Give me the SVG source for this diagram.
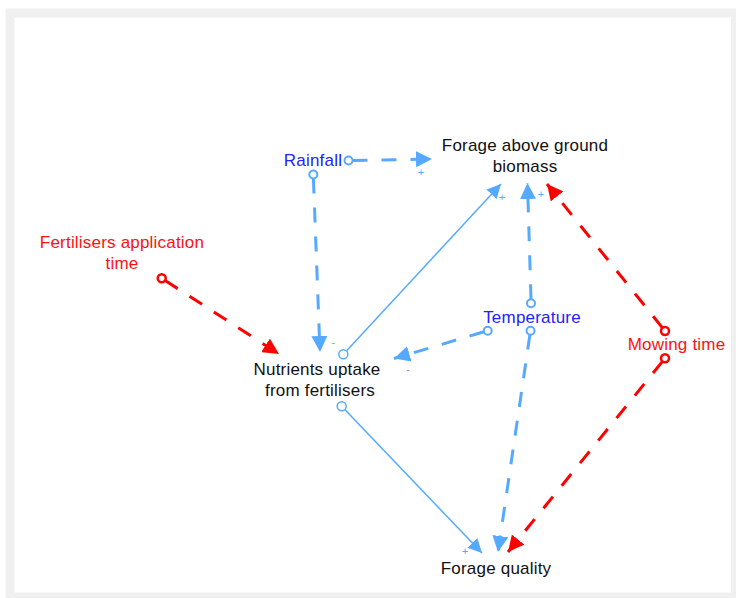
<svg xmlns="http://www.w3.org/2000/svg" width="736" height="598" viewBox="0 0 736 598">
  <style>
    .lbl { font-family: "Liberation Sans", Arial, sans-serif; font-size: 17px; letter-spacing: 0.2px; text-anchor: middle; }
    .black { fill: #111111; }
    .blue { fill: #2222ff; }
    .red { fill: #ff1111; }
    .sign { font-family: "Liberation Sans", Arial, sans-serif; font-size: 11px; text-anchor: middle; fill: #55aaff; }
    .dash-b { fill: none; stroke: #55aaff; stroke-width: 3; stroke-dasharray: 15 14; marker-end: url(#arrowB); }
    .dash-r { fill: none; stroke: #ff0000; stroke-width: 3; stroke-dasharray: 15 14; marker-end: url(#arrowR); }
    .solid-b { fill: none; stroke: #55aaff; stroke-width: 1.5; marker-end: url(#arrowBs); }
    .src-b { fill: #ffffff; stroke: #55aaff; stroke-width: 2; }
    .src-bs { fill: #ffffff; stroke: #55aaff; stroke-width: 1.5; }
    .src-r { fill: #ffffff; stroke: #ff0000; stroke-width: 2.5; }
  </style>
  <defs>
    <marker id="arrowB" markerUnits="userSpaceOnUse" markerWidth="17" markerHeight="16" refX="16" refY="8" orient="auto">
      <path d="M0,0 L16,8 L0,16 z" fill="#55aaff"/>
    </marker>
    <marker id="arrowR" markerUnits="userSpaceOnUse" markerWidth="17" markerHeight="16" refX="16" refY="8" orient="auto">
      <path d="M0,0 L16,8 L0,16 z" fill="#ff0000"/>
    </marker>
    <marker id="arrowBs" markerUnits="userSpaceOnUse" markerWidth="15" markerHeight="14" refX="14" refY="7" orient="auto">
      <path d="M0,0 L14,7 L0,14 z" fill="#55aaff"/>
    </marker>
  </defs>

  <!-- canvas frame -->
  <rect x="0" y="0" width="736" height="598" fill="#ffffff"/>
  <rect x="10" y="13" width="725.5" height="584" fill="#ffffff" stroke="#f0f0f0" stroke-width="9"/>

  <!-- links -->
  <g id="connectors">
    <!-- Rainfall -> Forage above ground biomass -->
    <line class="dash-b" x1="352.5" y1="160.5" x2="432" y2="159"/>
    <circle class="src-b" cx="348.5" cy="160.5" r="4"/>
    <text class="sign" x="421" y="176">+</text>

    <!-- Rainfall -> Nutrients uptake -->
    <line class="dash-b" x1="313.4" y1="178.5" x2="320" y2="352"/>
    <circle class="src-b" cx="313.3" cy="174.5" r="4"/>
    <text class="sign" x="333" y="346">-</text>

    <!-- Fertilisers application time -> Nutrients uptake -->
    <line class="dash-r" x1="165.1" y1="280.5" x2="279" y2="354"/>
    <circle class="src-r" cx="161.7" cy="278.3" r="4"/>

    <!-- Nutrients uptake -> Forage above ground biomass -->
    <line class="solid-b" x1="346.4" y1="351" x2="501" y2="184"/>
    <circle class="src-bs" cx="343.3" cy="354.3" r="4.5"/>
    <text class="sign" x="502" y="201">+</text>

    <!-- Temperature -> Forage above ground biomass -->
    <line class="dash-b" x1="531" y1="299.3" x2="527.5" y2="183"/>
    <circle class="src-b" cx="531" cy="303.3" r="4"/>
    <text class="sign" x="541" y="198">+</text>

    <!-- Temperature -> Nutrients uptake -->
    <line class="dash-b" x1="483.9" y1="331.8" x2="394" y2="358.5"/>
    <circle class="src-b" cx="487.7" cy="330.7" r="4"/>
    <text class="sign" x="408" y="373">-</text>

    <!-- Temperature -> Forage quality -->
    <line class="dash-b" x1="529.9" y1="334.7" x2="498" y2="552"/>
    <circle class="src-b" cx="530.5" cy="330.7" r="4"/>

    <!-- Nutrients uptake -> Forage quality -->
    <line class="solid-b" x1="344.8" y1="409.6" x2="482" y2="553"/>
    <circle class="src-bs" cx="341.7" cy="406.3" r="4.5"/>
    <text class="sign" x="465" y="555">+</text>

    <!-- Mowing time -> Forage above ground biomass -->
    <line class="dash-r" x1="662.5" y1="327.9" x2="547" y2="184"/>
    <circle class="src-r" cx="665" cy="331" r="4"/>

    <!-- Mowing time -> Forage quality -->
    <line class="dash-r" x1="662.5" y1="361.4" x2="508" y2="552"/>
    <circle class="src-r" cx="665" cy="358.3" r="4"/>
  </g>

  <!-- variables -->
  <g id="rainfall">
    <text class="lbl blue" x="313" y="166">Rainfall</text>
  </g>
  <g id="forage-biomass">
    <text class="lbl black" x="525" y="151">Forage above ground</text>
    <text class="lbl black" x="525" y="172">biomass</text>
  </g>
  <g id="fertilisers-time">
    <text class="lbl red" x="122" y="248">Fertilisers application</text>
    <text class="lbl red" x="122" y="269">time</text>
  </g>
  <g id="temperature">
    <text class="lbl blue" x="532" y="323">Temperature</text>
  </g>
  <g id="nutrients-uptake">
    <text class="lbl black" x="317" y="375">Nutrients uptake</text>
    <text class="lbl black" x="320" y="396">from fertilisers</text>
  </g>
  <g id="mowing-time">
    <text class="lbl red" x="676.5" y="350">Mowing time</text>
  </g>
  <g id="forage-quality">
    <text class="lbl black" x="496" y="574">Forage quality</text>
  </g>
</svg>
